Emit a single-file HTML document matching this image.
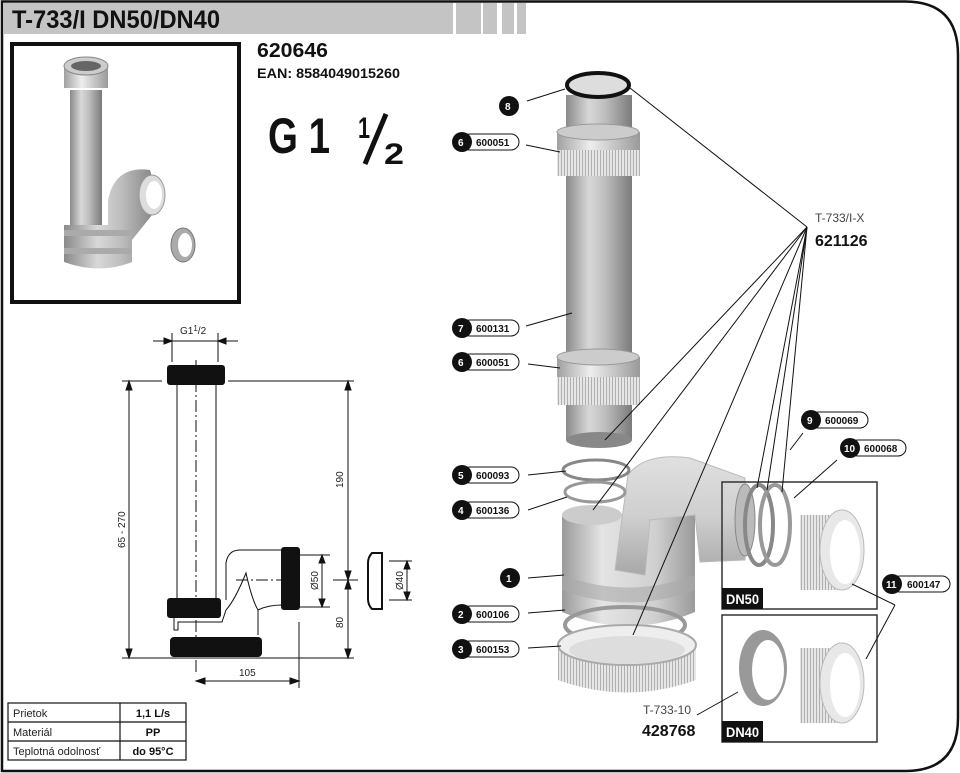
<!DOCTYPE html>
<html><head><meta charset="utf-8"><style>
html,body{margin:0;padding:0;background:#fff;}
svg{display:block;}
text{font-family:"Liberation Sans",sans-serif;}
.n{font-family:"Liberation Sans",sans-serif;font-weight:bold;}
</style></head><body>
<svg width="960" height="773" viewBox="0 0 960 773" xmlns="http://www.w3.org/2000/svg">
<defs>
<linearGradient id="pg" x1="0" x2="1" y1="0" y2="0">
<stop offset="0" stop-color="#8a8a8a"/><stop offset="0.35" stop-color="#d8d8d8"/><stop offset="0.6" stop-color="#bdbdbd"/><stop offset="1" stop-color="#7a7a7a"/></linearGradient>
<linearGradient id="bg" x1="0" x2="1" y1="0" y2="0">
<stop offset="0" stop-color="#9a9a9a"/><stop offset="0.3" stop-color="#e4e4e4"/><stop offset="0.7" stop-color="#d0d0d0"/><stop offset="1" stop-color="#9a9a9a"/></linearGradient>
<linearGradient id="ng" x1="0" x2="1" y1="0" y2="0">
<stop offset="0" stop-color="#a0a0a0"/><stop offset="0.4" stop-color="#eeeeee"/><stop offset="1" stop-color="#9a9a9a"/></linearGradient>
<linearGradient id="vg" x1="0" x2="0" y1="0" y2="1">
<stop offset="0" stop-color="#e0e0e0"/><stop offset="0.5" stop-color="#cfcfcf"/><stop offset="1" stop-color="#a8a8a8"/></linearGradient>
<pattern id="kn" width="3" height="10" patternUnits="userSpaceOnUse"><rect width="3" height="10" fill="#e6e6e6"/><rect width="1" height="10" fill="#b0b0b0"/></pattern>
</defs>
<path d="M2,772 L2,1.5 L905,1.5 Q958,1.5 958,55 L958,718 Q958,771 905,771 L2,771" fill="none" stroke="#111" stroke-width="2.5"/>
<rect x="3" y="3" width="450" height="31" fill="#c4c4c4"/>
<rect x="456" y="3" width="25" height="31" fill="#c4c4c4"/>
<rect x="483" y="3" width="14" height="31" fill="#c4c4c4"/>
<rect x="502" y="3" width="12" height="31" fill="#c4c4c4"/>
<rect x="517" y="3" width="9" height="31" fill="#c4c4c4"/>
<text x="12" y="28" class="n" font-size="25" fill="#111" textLength="208" lengthAdjust="spacingAndGlyphs">T-733/I  DN50/DN40</text>

<rect x="12" y="44" width="227" height="258" fill="#fff" stroke="#111" stroke-width="4"/>
<rect x="70" y="90" width="32" height="140" fill="url(#pg)"/>
<rect x="64" y="66" width="44" height="22" fill="url(#ng)"/>
<ellipse cx="86" cy="66" rx="22" ry="9" fill="#ccc" stroke="#888"/>
<ellipse cx="86" cy="66" rx="15" ry="5" fill="#666"/>
<path d="M64,225 L108,225 L108,200 Q115,165 150,170 L160,205 L132,240 L132,262 Q100,275 64,262 Z" fill="url(#pg)"/>
<rect x="64" y="230" width="68" height="6" fill="#aaa"/>
<rect x="64" y="248" width="68" height="6" fill="#aaa"/>
<ellipse cx="152" cy="195" rx="13" ry="20" fill="#ddd" stroke="#999"/>
<ellipse cx="154" cy="195" rx="8" ry="14" fill="#fff"/>
<ellipse cx="183" cy="245" rx="12" ry="17" fill="#aaa" stroke="#777"/>
<ellipse cx="185" cy="245" rx="7" ry="12" fill="#fff"/>

<text x="257" y="57" class="n" font-size="20" fill="#111" textLength="71" lengthAdjust="spacingAndGlyphs">620646</text>
<text x="257" y="78" class="n" font-size="14" fill="#111" textLength="143" lengthAdjust="spacingAndGlyphs">EAN: 8584049015260</text>
<text x="268" y="153" class="n" font-size="50" fill="#111" textLength="62" lengthAdjust="spacingAndGlyphs">G 1</text>
<text x="358" y="138" class="n" font-size="30" fill="#111" textLength="12" lengthAdjust="spacingAndGlyphs">1</text>
<line x1="365" y1="164" x2="386" y2="114" stroke="#111" stroke-width="5"/>
<text x="384" y="164" class="n" font-size="30" fill="#111" textLength="20" lengthAdjust="spacingAndGlyphs">2</text>

<g stroke="#111" stroke-width="1" fill="none">
<line x1="153" y1="341" x2="238" y2="341"/>
<line x1="172" y1="333" x2="172" y2="362"/><line x1="218" y1="333" x2="218" y2="362"/>
<path d="M172,341 l-8,-3 v6z M218,341 l8,-3 v6z" fill="#111"/>
<line x1="177" y1="384" x2="177" y2="600"/><line x1="216" y1="384" x2="216" y2="600"/>
<line x1="196" y1="360" x2="196" y2="672" stroke-dasharray="12,3,2,3"/>
<line x1="122" y1="381" x2="162" y2="381"/><line x1="228" y1="381" x2="354" y2="381"/>
<line x1="122" y1="658" x2="354" y2="658"/>
<line x1="129" y1="381" x2="129" y2="658"/>
<path d="M129,381 l-3,9 h6z M129,658 l-3,-9 h6z" fill="#111"/>
<line x1="348" y1="381" x2="348" y2="658"/>
<path d="M348,381 l-3,9 h6z M348,580 l-3,-9 h6z M348,580 l-3,9 h6z M348,658 l-3,-9 h6z" fill="#111"/>
<line x1="333" y1="580" x2="358" y2="580"/>
<line x1="236" y1="580" x2="300" y2="580" stroke-dasharray="12,3,2,3"/>
<line x1="300" y1="555" x2="330" y2="555"/><line x1="300" y1="607" x2="330" y2="607"/>
<line x1="322" y1="555" x2="322" y2="607"/>
<path d="M322,555 l-3,8 h6z M322,607 l-3,-8 h6z" fill="#111"/>
<line x1="389" y1="561" x2="412" y2="561"/><line x1="389" y1="600" x2="412" y2="600"/>
<line x1="407" y1="561" x2="407" y2="600"/>
<path d="M407,561 l-3,8 h6z M407,600 l-3,-8 h6z" fill="#111"/>
<line x1="299" y1="622" x2="299" y2="688"/>
<line x1="196" y1="681" x2="299" y2="681"/>
<path d="M196,681 l9,-3 v6z M299,681 l-9,-3 v6z" fill="#111"/>
<path d="M226,600 V563 Q228,550 240,550 H282 M226,610 Q235,600 246,573 Q252,600 258,610 V635 M258,610 Q268,605 282,605"/>
<path d="M174,617 V630 H178 V622 H222 L226,610"/>
</g>
<g fill="#111">
<rect x="167" y="365" width="58" height="20" rx="3"/>
<rect x="167" y="598" width="54" height="20" rx="3"/>
<rect x="170" y="637" width="92" height="20" rx="4"/>
<rect x="281" y="547" width="19" height="63" rx="3"/>
</g>
<path d="M372,553 h10 v56 h-10 q-4,-4 -4,-10 v-36 q0,-6 4,-10z" fill="#fff" stroke="#111" stroke-width="2"/>
<g font-size="10" fill="#222">
<text x="180" y="334">G1<tspan font-size="8" dy="-3">1</tspan><tspan dy="3">/2</tspan></text>
<text transform="translate(125,548) rotate(-90)">65 - 270</text>
<text transform="translate(343,488) rotate(-90)">190</text>
<text transform="translate(343,628) rotate(-90)">80</text>
<text transform="translate(318,590) rotate(-90)">Ø50</text>
<text transform="translate(403,590) rotate(-90)">Ø40</text>
<text x="239" y="676">105</text>
</g>

<g stroke="#111" fill="none" stroke-width="1.2">
<rect x="8" y="703" width="178" height="57"/>
<line x1="8" y1="722" x2="186" y2="722"/><line x1="8" y1="741" x2="186" y2="741"/>
<line x1="120" y1="703" x2="120" y2="760"/>
</g>
<g font-size="11" fill="#222">
<text x="13" y="717">Prietok</text><text x="13" y="736">Materiál</text><text x="13" y="755">Teplotná odolnosť</text>
</g>
<g font-size="11" fill="#111" text-anchor="middle" font-weight="bold">
<text x="153" y="717">1,1 L/s</text><text x="153" y="736">PP</text><text x="153" y="755">do 95°C</text>
</g>

<!-- exploded view -->
<rect x="566" y="95" width="66" height="345" fill="url(#pg)"/>
<ellipse cx="599" cy="440" rx="33" ry="8" fill="#888"/>
<rect x="557" y="132" width="83" height="44" fill="url(#kn)"/>
<rect x="557" y="132" width="83" height="18" fill="url(#ng)"/>
<ellipse cx="598" cy="132" rx="41" ry="8" fill="#ccc" stroke="#999"/>
<rect x="557" y="357" width="83" height="48" fill="url(#kn)"/>
<rect x="557" y="357" width="83" height="20" fill="url(#ng)"/>
<ellipse cx="598" cy="357" rx="41" ry="8" fill="#ccc" stroke="#999"/>
<ellipse cx="598" cy="85" rx="31" ry="12" fill="#ddd" stroke="#111" stroke-width="4"/>
<!-- body -->
<path d="M562,515 L695,515 L695,612 Q628,640 562,612 Z" fill="url(#bg)"/>
<path d="M562,575 Q628,600 695,575 L695,590 Q628,615 562,590 Z" fill="#aaa" opacity="0.6"/>
<ellipse cx="592" cy="515" rx="30" ry="10" fill="#ccc"/>
<path d="M628,475 Q645,452 690,458 L745,478 L745,560 L700,562 L695,515 L650,520 L645,575 L615,570 Z" fill="url(#vg)" stroke="#bbb"/>
<ellipse cx="745" cy="520" rx="10" ry="36" fill="#bbb" stroke="#888"/>
<ellipse cx="596" cy="470" rx="33" ry="10" fill="none" stroke="#888" stroke-width="3"/>
<ellipse cx="595" cy="492" rx="30" ry="10" fill="none" stroke="#999" stroke-width="3"/>
<ellipse cx="625" cy="625" rx="60" ry="18" fill="none" stroke="#999" stroke-width="4"/>
<path d="M558,645 L696,645 L696,680 Q627,705 558,680 Z" fill="url(#kn)"/>
<ellipse cx="627" cy="645" rx="69" ry="20" fill="#eee" stroke="#aaa" stroke-width="2"/>
<ellipse cx="627" cy="650" rx="58" ry="14" fill="#ddd"/>
<ellipse cx="759" cy="525" rx="14" ry="40" fill="none" stroke="#888" stroke-width="4"/>
<ellipse cx="775" cy="525" rx="15" ry="40" fill="none" stroke="#999" stroke-width="4"/>
<rect x="722" y="482" width="155" height="127" fill="none" stroke="#333" stroke-width="1.5"/>
<rect x="722" y="588" width="41" height="21" fill="#111"/>
<text x="726" y="604" class="n" font-size="14" fill="#fff" textLength="33" lengthAdjust="spacingAndGlyphs">DN50</text>
<rect x="722" y="615" width="155" height="127" fill="none" stroke="#333" stroke-width="1.5"/>
<rect x="722" y="721" width="41" height="21" fill="#111"/>
<text x="726" y="737" class="n" font-size="14" fill="#fff" textLength="33" lengthAdjust="spacingAndGlyphs">DN40</text>
<rect x="800" y="515" width="45" height="75" fill="url(#kn)"/>
<ellipse cx="842" cy="550" rx="22" ry="40" fill="#e8e8e8" stroke="#bbb"/>
<ellipse cx="845" cy="552" rx="15" ry="32" fill="#fff"/>
<rect x="800" y="648" width="45" height="75" fill="url(#kn)"/>
<ellipse cx="842" cy="683" rx="22" ry="40" fill="#e8e8e8" stroke="#bbb"/>
<ellipse cx="845" cy="685" rx="15" ry="32" fill="#fff"/>
<ellipse cx="763" cy="668" rx="24" ry="38" fill="#999"/>
<ellipse cx="768" cy="670" rx="16" ry="30" fill="#fff"/>

<g stroke="#111" stroke-width="1" fill="none">
<line x1="527" y1="101" x2="565" y2="89"/>
<line x1="526" y1="145" x2="560" y2="152"/>
<line x1="526" y1="326" x2="572" y2="313"/>
<line x1="528" y1="364" x2="560" y2="368"/>
<line x1="528" y1="475" x2="566" y2="471"/>
<line x1="528" y1="510" x2="567" y2="497"/>
<line x1="528" y1="578" x2="564" y2="575"/>
<line x1="528" y1="613" x2="565" y2="610"/>
<line x1="528" y1="648" x2="561" y2="646"/>
<line x1="807" y1="227" x2="630" y2="88"/>
<line x1="807" y1="227" x2="605" y2="440"/>
<line x1="807" y1="227" x2="593" y2="510"/>
<line x1="807" y1="227" x2="633" y2="635"/>
<line x1="807" y1="227" x2="757" y2="488"/>
<line x1="807" y1="227" x2="767" y2="490"/>
<line x1="807" y1="227" x2="782" y2="492"/>
<line x1="803" y1="433" x2="790" y2="450"/>
<line x1="837" y1="460" x2="794" y2="498"/>
<line x1="895" y1="605" x2="852" y2="584"/>
<line x1="895" y1="605" x2="866" y2="659"/>
<line x1="697" y1="715" x2="738" y2="692"/>
</g>
<text x="815" y="222" font-size="12" fill="#444">T-733/I-X</text>
<text x="815" y="246" font-size="16" font-weight="bold" fill="#111">621126</text>
<text x="643" y="714" font-size="12" fill="#444">T-733-10</text>
<text x="642" y="736" font-size="16" font-weight="bold" fill="#111">428768</text>

<g font-size="10" font-weight="bold">
<g><rect x="462" y="134" width="57" height="16" rx="8" fill="#fff" stroke="#111"/><circle cx="462" cy="142" r="10" fill="#111"/><text x="458" y="146" fill="#fff">6</text><text x="476" y="146" fill="#111">600051</text></g>
<g><rect x="462" y="320" width="57" height="16" rx="8" fill="#fff" stroke="#111"/><circle cx="462" cy="328" r="10" fill="#111"/><text x="458" y="332" fill="#fff">7</text><text x="476" y="332" fill="#111">600131</text></g>
<g><rect x="462" y="354" width="57" height="16" rx="8" fill="#fff" stroke="#111"/><circle cx="462" cy="362" r="10" fill="#111"/><text x="458" y="366" fill="#fff">6</text><text x="476" y="366" fill="#111">600051</text></g>
<g><rect x="462" y="467" width="57" height="16" rx="8" fill="#fff" stroke="#111"/><circle cx="462" cy="475" r="10" fill="#111"/><text x="458" y="479" fill="#fff">5</text><text x="476" y="479" fill="#111">600093</text></g>
<g><rect x="462" y="502" width="57" height="16" rx="8" fill="#fff" stroke="#111"/><circle cx="462" cy="510" r="10" fill="#111"/><text x="458" y="514" fill="#fff">4</text><text x="476" y="514" fill="#111">600136</text></g>
<g><rect x="462" y="606" width="57" height="16" rx="8" fill="#fff" stroke="#111"/><circle cx="462" cy="614" r="10" fill="#111"/><text x="458" y="618" fill="#fff">2</text><text x="476" y="618" fill="#111">600106</text></g>
<g><rect x="462" y="641" width="57" height="16" rx="8" fill="#fff" stroke="#111"/><circle cx="462" cy="649" r="10" fill="#111"/><text x="458" y="653" fill="#fff">3</text><text x="476" y="653" fill="#111">600153</text></g>
<g><circle cx="509" cy="106" r="10" fill="#111"/><text x="505" y="110" fill="#fff">8</text></g>
<g><circle cx="510" cy="578" r="10" fill="#111"/><text x="506" y="582" fill="#fff">1</text></g>
<g><rect x="811" y="412" width="57" height="16" rx="8" fill="#fff" stroke="#111"/><circle cx="811" cy="420" r="10" fill="#111"/><text x="807" y="424" fill="#fff">9</text><text x="825" y="424" fill="#111">600069</text></g>
<g><rect x="850" y="440" width="56" height="16" rx="8" fill="#fff" stroke="#111"/><circle cx="850" cy="448" r="10" fill="#111"/><text x="844" y="452" fill="#fff">10</text><text x="864" y="452" fill="#111">600068</text></g>
<g><rect x="892" y="576" width="58" height="16" rx="8" fill="#fff" stroke="#111"/><circle cx="892" cy="584" r="10" fill="#111"/><text x="886" y="588" fill="#fff">11</text><text x="907" y="588" fill="#111">600147</text></g>
</g>
</svg>
</body></html>
